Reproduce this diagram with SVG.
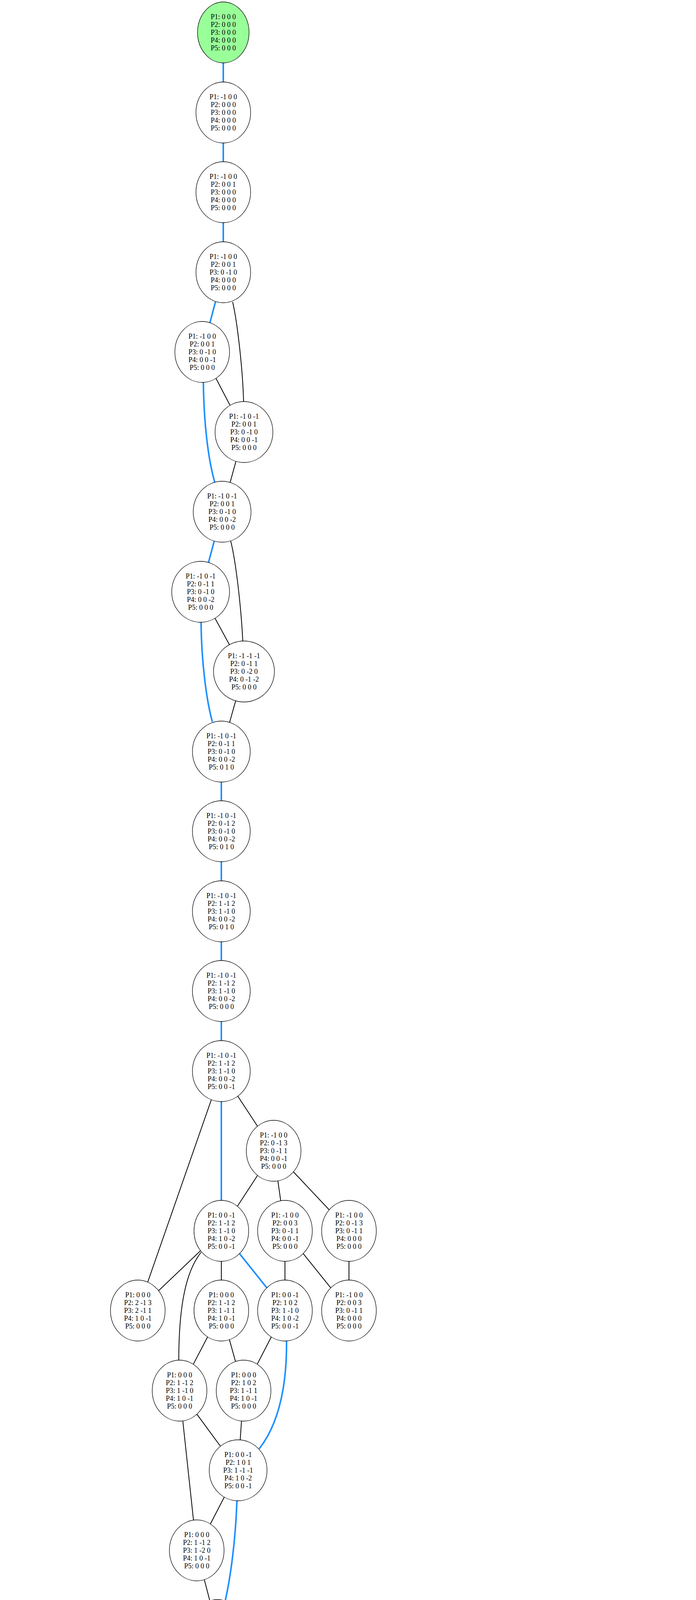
<svg xmlns="http://www.w3.org/2000/svg" width="1783" height="7797" viewBox="0 0 1783 7797">
<style>
.k{stroke:#000;stroke-width:2;fill:none}
.b{stroke:#1e90ff;stroke-width:4;fill:none}
.nd ellipse{fill:#fff;stroke:#000;stroke-width:1.3}
.nd text{font-family:"Liberation Serif","Times New Roman",serif;font-size:18px;text-anchor:middle;fill:#000}
</style>
<rect width="1783" height="7797" fill="#fff"/>
<g id="edges">
<line class="b" x1="572" y1="83" x2="572" y2="288"/>
<line class="b" x1="572" y1="288" x2="572" y2="492"/>
<line class="b" x1="572" y1="492" x2="572" y2="697"/>
<line class="b" x1="572" y1="697" x2="518" y2="901"/>
<path class="k" d="M596,773 C609,830 622,950 624,1028"/>
<line class="k" x1="518" y1="901" x2="625" y2="1106"/>
<path class="b" d="M521,979 C522,1080 533,1175 550,1234"/>
<line class="k" x1="625" y1="1106" x2="569" y2="1310"/>
<line class="b" x1="569" y1="1310" x2="514" y2="1515"/>
<path class="k" d="M591,1385 C605,1440 618,1560 622,1641"/>
<line class="k" x1="514" y1="1515" x2="625" y2="1719"/>
<path class="b" d="M515,1593 C516,1690 528,1790 544,1848"/>
<line class="k" x1="625" y1="1719" x2="567" y2="1924"/>
<line class="b" x1="567" y1="1924" x2="567" y2="2128"/>
<line class="b" x1="567" y1="2128" x2="567" y2="2333"/>
<line class="b" x1="567" y1="2333" x2="567" y2="2537"/>
<line class="b" x1="567" y1="2537" x2="567" y2="2742"/>
<line class="b" x1="567" y1="2742" x2="567" y2="3151"/>
<line class="k" x1="567" y1="2742" x2="701" y2="2946"/>
<line class="k" x1="567" y1="2742" x2="353" y2="3355"/>
<line class="k" x1="701" y1="2946" x2="567" y2="3151"/>
<line class="k" x1="701" y1="2946" x2="730" y2="3151"/>
<line class="k" x1="701" y1="2946" x2="894" y2="3151"/>
<line class="k" x1="567" y1="3151" x2="353" y2="3355"/>
<line class="k" x1="567" y1="3151" x2="567" y2="3355"/>
<line class="b" x1="567" y1="3151" x2="730" y2="3355"/>
<path class="k" d="M515,3206 C480,3250 458,3330 458,3482"/>
<line class="k" x1="730" y1="3151" x2="730" y2="3355"/>
<line class="k" x1="730" y1="3151" x2="894" y2="3355"/>
<line class="k" x1="894" y1="3151" x2="894" y2="3355"/>
<line class="k" x1="567" y1="3355" x2="460" y2="3560"/>
<line class="k" x1="567" y1="3355" x2="624" y2="3560"/>
<line class="k" x1="730" y1="3355" x2="624" y2="3560"/>
<path class="b" d="M734,3433 C735,3560 710,3650 664,3709"/>
<line class="k" x1="460" y1="3560" x2="610" y2="3764"/>
<line class="k" x1="624" y1="3560" x2="610" y2="3764"/>
<line class="k" x1="460" y1="3560" x2="504" y2="3969"/>
<line class="k" x1="610" y1="3764" x2="504" y2="3969"/>
<path class="b" d="M607,3842 C603,3950 590,4040 577,4098"/>
<line class="k" x1="504" y1="3969" x2="557" y2="4173"/>
<line class="b" x1="557" y1="4173" x2="557" y2="4378"/>
<line class="b" x1="557" y1="4378" x2="557" y2="4582"/>
<line class="b" x1="557" y1="4582" x2="627" y2="4787"/>
<line class="k" x1="557" y1="4582" x2="476" y2="4991"/>
<line class="k" x1="627" y1="4787" x2="476" y2="4991"/>
<line class="k" x1="627" y1="4787" x2="640" y2="4991"/>
<path class="b" d="M679,4842 C715,4880 745,4960 752,5118"/>
<line class="k" x1="640" y1="4991" x2="579" y2="5196"/>
<line class="k" x1="640" y1="4991" x2="747" y2="5196"/>
<line class="k" x1="747" y1="5196" x2="800" y2="5400"/>
<path class="b" d="M727,5271 C712,5340 712,5460 727,5530"/>
<line class="k" x1="800" y1="5400" x2="747" y2="5605"/>
<line class="b" x1="747" y1="5605" x2="803" y2="5809"/>
<path class="k" d="M727,5680 C712,5760 697,5840 695,5936"/>
<line class="k" x1="803" y1="5809" x2="691" y2="6014"/>
<line class="b" x1="803" y1="5809" x2="860" y2="6014"/>
<line class="k" x1="691" y1="6014" x2="526" y2="6218"/>
<line class="k" x1="691" y1="6014" x2="691" y2="6218"/>
<line class="b" x1="860" y1="6014" x2="972" y2="6218"/>
<line class="k" x1="860" y1="6014" x2="862" y2="6423"/>
<line class="k" x1="972" y1="6218" x2="862" y2="6423"/>
<line class="b" x1="972" y1="6218" x2="1040" y2="6423"/>
<line class="k" x1="526" y1="6218" x2="527" y2="6423"/>
<line class="k" x1="526" y1="6218" x2="691" y2="6423"/>
<path class="k" d="M480,6277 C440,6340 418,6420 418,6549"/>
<line class="k" x1="691" y1="6218" x2="691" y2="6423"/>
<line class="k" x1="527" y1="6423" x2="420" y2="6627"/>
<line class="k" x1="527" y1="6423" x2="584" y2="6627"/>
<line class="k" x1="691" y1="6423" x2="584" y2="6627"/>
<path class="k" d="M687,6501 C685,6600 670,6700 657,6757"/>
<line class="k" x1="584" y1="6627" x2="637" y2="6832"/>
<line class="k" x1="1040" y1="6423" x2="948" y2="6627"/>
<line class="k" x1="1040" y1="6423" x2="1107" y2="6627"/>
<line class="k" x1="948" y1="6627" x2="836" y2="6832"/>
<line class="b" x1="948" y1="6627" x2="1013" y2="6832"/>
<line class="k" x1="836" y1="6832" x2="836" y2="7022"/>
<line class="k" x1="1013" y1="6832" x2="836" y2="7022"/>
<line class="b" x1="1013" y1="6832" x2="1222" y2="7022"/>
<line class="k" x1="1013" y1="6832" x2="1003" y2="7200"/>
<path class="k" d="M1030,6894 C1060,7000 1095,7180 1102,7310"/>
<line class="k" x1="836" y1="7022" x2="675" y2="7200"/>
<path class="k" d="M765,7043 C640,7085 520,7160 432,7318"/>
<line class="k" x1="836" y1="7022" x2="809" y2="7551"/>
<line class="k" x1="1222" y1="7022" x2="675" y2="7200"/>
<line class="k" x1="1222" y1="7022" x2="1003" y2="7200"/>
<line class="k" x1="1222" y1="7022" x2="1110" y2="7374"/>
<line class="k" x1="1222" y1="7022" x2="1322" y2="7374"/>
<path class="k" d="M1268,7072 C1360,7190 1425,7300 1420,7390 C1415,7450 1340,7500 1282,7530"/>
<line class="b" x1="1222" y1="7022" x2="1545" y2="7200"/>
<line class="k" x1="675" y1="7200" x2="398" y2="7374"/>
<line class="k" x1="675" y1="7200" x2="621" y2="7374"/>
<line class="k" x1="675" y1="7200" x2="809" y2="7551"/>
<path class="k" d="M612,7231 C555,7260 520,7300 521,7360 C523,7450 545,7560 550,7664"/>
<path class="k" d="M934,7218 C830,7245 700,7255 600,7280 C530,7298 480,7320 460,7343"/>
<path class="k" d="M950,7243 C880,7310 800,7400 720,7440 C650,7475 580,7505 518,7530"/>
<line class="k" x1="1003" y1="7200" x2="946" y2="7374"/>
<line class="k" x1="1003" y1="7200" x2="1110" y2="7374"/>
<line class="k" x1="1003" y1="7200" x2="1322" y2="7374"/>
<path class="k" d="M1067,7231 C1160,7270 1225,7340 1224,7487"/>
<line class="b" x1="1545" y1="7200" x2="1541" y2="7374"/>
<line class="k" x1="1545" y1="7200" x2="1706" y2="7374"/>
<line class="k" x1="398" y1="7374" x2="75" y2="7551"/>
<line class="k" x1="398" y1="7374" x2="239" y2="7551"/>
<line class="k" x1="398" y1="7374" x2="452" y2="7551"/>
<line class="k" x1="398" y1="7374" x2="809" y2="7551"/>
<path class="k" d="M373,7435 C355,7500 350,7580 380,7630 C410,7675 450,7695 494,7709"/>
<line class="k" x1="1110" y1="7374" x2="809" y2="7551"/>
<line class="k" x1="1110" y1="7374" x2="1216" y2="7551"/>
<line class="k" x1="1110" y1="7374" x2="990" y2="7728"/>
<line class="k" x1="809" y1="7551" x2="559" y2="7728"/>
<line class="k" x1="809" y1="7551" x2="809" y2="7728"/>
<line class="k" x1="809" y1="7551" x2="990" y2="7728"/>
<line class="k" x1="1541" y1="7374" x2="1461" y2="7551"/>
<line class="b" x1="1541" y1="7374" x2="1618" y2="7551"/>
<line class="k" x1="1618" y1="7551" x2="1542" y2="7728"/>
<line class="b" x1="1618" y1="7551" x2="1694" y2="7728"/>
</g>
<g id="n0" class="nd"><ellipse cx="572" cy="83" rx="66" ry="78" style="fill:#99ff99"/><text x="572" y="49"><tspan x="572">P1: 0 0 0</tspan><tspan x="572" dy="20">P2: 0 0 0</tspan><tspan x="572" dy="20">P3: 0 0 0</tspan><tspan x="572" dy="20">P4: 0 0 0</tspan><tspan x="572" dy="20">P5: 0 0 0</tspan></text></g>
<g id="n1" class="nd"><ellipse cx="572" cy="288" rx="70" ry="78"/><text x="572" y="254"><tspan x="572">P1: -1 0 0</tspan><tspan x="572" dy="20">P2: 0 0 0</tspan><tspan x="572" dy="20">P3: 0 0 0</tspan><tspan x="572" dy="20">P4: 0 0 0</tspan><tspan x="572" dy="20">P5: 0 0 0</tspan></text></g>
<g id="n2" class="nd"><ellipse cx="572" cy="492" rx="70" ry="78"/><text x="572" y="458"><tspan x="572">P1: -1 0 0</tspan><tspan x="572" dy="20">P2: 0 0 1</tspan><tspan x="572" dy="20">P3: 0 0 0</tspan><tspan x="572" dy="20">P4: 0 0 0</tspan><tspan x="572" dy="20">P5: 0 0 0</tspan></text></g>
<g id="n3" class="nd"><ellipse cx="572" cy="697" rx="70" ry="78"/><text x="572" y="663"><tspan x="572">P1: -1 0 0</tspan><tspan x="572" dy="20">P2: 0 0 1</tspan><tspan x="572" dy="20">P3: 0 -1 0</tspan><tspan x="572" dy="20">P4: 0 0 0</tspan><tspan x="572" dy="20">P5: 0 0 0</tspan></text></g>
<g id="n4" class="nd"><ellipse cx="518" cy="901" rx="70" ry="78"/><text x="518" y="867"><tspan x="518">P1: -1 0 0</tspan><tspan x="518" dy="20">P2: 0 0 1</tspan><tspan x="518" dy="20">P3: 0 -1 0</tspan><tspan x="518" dy="20">P4: 0 0 -1</tspan><tspan x="518" dy="20">P5: 0 0 0</tspan></text></g>
<g id="n5" class="nd"><ellipse cx="625" cy="1106" rx="74" ry="78"/><text x="625" y="1072"><tspan x="625">P1: -1 0 -1</tspan><tspan x="625" dy="20">P2: 0 0 1</tspan><tspan x="625" dy="20">P3: 0 -1 0</tspan><tspan x="625" dy="20">P4: 0 0 -1</tspan><tspan x="625" dy="20">P5: 0 0 0</tspan></text></g>
<g id="n6" class="nd"><ellipse cx="569" cy="1310" rx="74" ry="78"/><text x="569" y="1276"><tspan x="569">P1: -1 0 -1</tspan><tspan x="569" dy="20">P2: 0 0 1</tspan><tspan x="569" dy="20">P3: 0 -1 0</tspan><tspan x="569" dy="20">P4: 0 0 -2</tspan><tspan x="569" dy="20">P5: 0 0 0</tspan></text></g>
<g id="n7" class="nd"><ellipse cx="514" cy="1515" rx="74" ry="78"/><text x="514" y="1481"><tspan x="514">P1: -1 0 -1</tspan><tspan x="514" dy="20">P2: 0 -1 1</tspan><tspan x="514" dy="20">P3: 0 -1 0</tspan><tspan x="514" dy="20">P4: 0 0 -2</tspan><tspan x="514" dy="20">P5: 0 0 0</tspan></text></g>
<g id="n8" class="nd"><ellipse cx="625" cy="1719" rx="78" ry="78"/><text x="625" y="1685"><tspan x="625">P1: -1 -1 -1</tspan><tspan x="625" dy="20">P2: 0 -1 1</tspan><tspan x="625" dy="20">P3: 0 -2 0</tspan><tspan x="625" dy="20">P4: 0 -1 -2</tspan><tspan x="625" dy="20">P5: 0 0 0</tspan></text></g>
<g id="n9" class="nd"><ellipse cx="567" cy="1924" rx="74" ry="78"/><text x="567" y="1890"><tspan x="567">P1: -1 0 -1</tspan><tspan x="567" dy="20">P2: 0 -1 1</tspan><tspan x="567" dy="20">P3: 0 -1 0</tspan><tspan x="567" dy="20">P4: 0 0 -2</tspan><tspan x="567" dy="20">P5: 0 1 0</tspan></text></g>
<g id="n10" class="nd"><ellipse cx="567" cy="2128" rx="74" ry="78"/><text x="567" y="2094"><tspan x="567">P1: -1 0 -1</tspan><tspan x="567" dy="20">P2: 0 -1 2</tspan><tspan x="567" dy="20">P3: 0 -1 0</tspan><tspan x="567" dy="20">P4: 0 0 -2</tspan><tspan x="567" dy="20">P5: 0 1 0</tspan></text></g>
<g id="n11" class="nd"><ellipse cx="567" cy="2333" rx="74" ry="78"/><text x="567" y="2299"><tspan x="567">P1: -1 0 -1</tspan><tspan x="567" dy="20">P2: 1 -1 2</tspan><tspan x="567" dy="20">P3: 1 -1 0</tspan><tspan x="567" dy="20">P4: 0 0 -2</tspan><tspan x="567" dy="20">P5: 0 1 0</tspan></text></g>
<g id="n12" class="nd"><ellipse cx="567" cy="2537" rx="74" ry="78"/><text x="567" y="2503"><tspan x="567">P1: -1 0 -1</tspan><tspan x="567" dy="20">P2: 1 -1 2</tspan><tspan x="567" dy="20">P3: 1 -1 0</tspan><tspan x="567" dy="20">P4: 0 0 -2</tspan><tspan x="567" dy="20">P5: 0 0 0</tspan></text></g>
<g id="n13" class="nd"><ellipse cx="567" cy="2742" rx="74" ry="78"/><text x="567" y="2708"><tspan x="567">P1: -1 0 -1</tspan><tspan x="567" dy="20">P2: 1 -1 2</tspan><tspan x="567" dy="20">P3: 1 -1 0</tspan><tspan x="567" dy="20">P4: 0 0 -2</tspan><tspan x="567" dy="20">P5: 0 0 -1</tspan></text></g>
<g id="nC" class="nd"><ellipse cx="701" cy="2946" rx="70" ry="78"/><text x="701" y="2912"><tspan x="701">P1: -1 0 0</tspan><tspan x="701" dy="20">P2: 0 -1 3</tspan><tspan x="701" dy="20">P3: 0 -1 1</tspan><tspan x="701" dy="20">P4: 0 0 -1</tspan><tspan x="701" dy="20">P5: 0 0 0</tspan></text></g>
<g id="nD" class="nd"><ellipse cx="567" cy="3151" rx="70" ry="78"/><text x="567" y="3117"><tspan x="567">P1: 0 0 -1</tspan><tspan x="567" dy="20">P2: 1 -1 2</tspan><tspan x="567" dy="20">P3: 1 -1 0</tspan><tspan x="567" dy="20">P4: 1 0 -2</tspan><tspan x="567" dy="20">P5: 0 0 -1</tspan></text></g>
<g id="nE" class="nd"><ellipse cx="730" cy="3151" rx="70" ry="78"/><text x="730" y="3117"><tspan x="730">P1: -1 0 0</tspan><tspan x="730" dy="20">P2: 0 0 3</tspan><tspan x="730" dy="20">P3: 0 -1 1</tspan><tspan x="730" dy="20">P4: 0 0 -1</tspan><tspan x="730" dy="20">P5: 0 0 0</tspan></text></g>
<g id="nF" class="nd"><ellipse cx="894" cy="3151" rx="70" ry="78"/><text x="894" y="3117"><tspan x="894">P1: -1 0 0</tspan><tspan x="894" dy="20">P2: 0 -1 3</tspan><tspan x="894" dy="20">P3: 0 -1 1</tspan><tspan x="894" dy="20">P4: 0 0 0</tspan><tspan x="894" dy="20">P5: 0 0 0</tspan></text></g>
<g id="nG" class="nd"><ellipse cx="353" cy="3355" rx="70" ry="78"/><text x="353" y="3321"><tspan x="353">P1: 0 0 0</tspan><tspan x="353" dy="20">P2: 2 -1 3</tspan><tspan x="353" dy="20">P3: 2 -1 1</tspan><tspan x="353" dy="20">P4: 1 0 -1</tspan><tspan x="353" dy="20">P5: 0 0 0</tspan></text></g>
<g id="nH" class="nd"><ellipse cx="567" cy="3355" rx="70" ry="78"/><text x="567" y="3321"><tspan x="567">P1: 0 0 0</tspan><tspan x="567" dy="20">P2: 1 -1 2</tspan><tspan x="567" dy="20">P3: 1 -1 1</tspan><tspan x="567" dy="20">P4: 1 0 -1</tspan><tspan x="567" dy="20">P5: 0 0 0</tspan></text></g>
<g id="nI" class="nd"><ellipse cx="730" cy="3355" rx="70" ry="78"/><text x="730" y="3321"><tspan x="730">P1: 0 0 -1</tspan><tspan x="730" dy="20">P2: 1 0 2</tspan><tspan x="730" dy="20">P3: 1 -1 0</tspan><tspan x="730" dy="20">P4: 1 0 -2</tspan><tspan x="730" dy="20">P5: 0 0 -1</tspan></text></g>
<g id="nJ" class="nd"><ellipse cx="894" cy="3355" rx="70" ry="78"/><text x="894" y="3321"><tspan x="894">P1: -1 0 0</tspan><tspan x="894" dy="20">P2: 0 0 3</tspan><tspan x="894" dy="20">P3: 0 -1 1</tspan><tspan x="894" dy="20">P4: 0 0 0</tspan><tspan x="894" dy="20">P5: 0 0 0</tspan></text></g>
<g id="nK" class="nd"><ellipse cx="460" cy="3560" rx="70" ry="78"/><text x="460" y="3526"><tspan x="460">P1: 0 0 0</tspan><tspan x="460" dy="20">P2: 1 -1 2</tspan><tspan x="460" dy="20">P3: 1 -1 0</tspan><tspan x="460" dy="20">P4: 1 0 -1</tspan><tspan x="460" dy="20">P5: 0 0 0</tspan></text></g>
<g id="nL" class="nd"><ellipse cx="624" cy="3560" rx="70" ry="78"/><text x="624" y="3526"><tspan x="624">P1: 0 0 0</tspan><tspan x="624" dy="20">P2: 1 0 2</tspan><tspan x="624" dy="20">P3: 1 -1 1</tspan><tspan x="624" dy="20">P4: 1 0 -1</tspan><tspan x="624" dy="20">P5: 0 0 0</tspan></text></g>
<g id="nM" class="nd"><ellipse cx="610" cy="3764" rx="74" ry="78"/><text x="610" y="3730"><tspan x="610">P1: 0 0 -1</tspan><tspan x="610" dy="20">P2: 1 0 1</tspan><tspan x="610" dy="20">P3: 1 -1 -1</tspan><tspan x="610" dy="20">P4: 1 0 -2</tspan><tspan x="610" dy="20">P5: 0 0 -1</tspan></text></g>
<g id="nN" class="nd"><ellipse cx="504" cy="3969" rx="70" ry="78"/><text x="504" y="3935"><tspan x="504">P1: 0 0 0</tspan><tspan x="504" dy="20">P2: 1 -1 2</tspan><tspan x="504" dy="20">P3: 1 -2 0</tspan><tspan x="504" dy="20">P4: 1 0 -1</tspan><tspan x="504" dy="20">P5: 0 0 0</tspan></text></g>
<g id="nO" class="nd"><ellipse cx="557" cy="4173" rx="74" ry="78"/><text x="557" y="4139"><tspan x="557">P1: 0 0 -1</tspan><tspan x="557" dy="20">P2: 1 0 1</tspan><tspan x="557" dy="20">P3: 1 -2 -1</tspan><tspan x="557" dy="20">P4: 1 0 -2</tspan><tspan x="557" dy="20">P5: 0 0 -1</tspan></text></g>
<g id="nP" class="nd"><ellipse cx="557" cy="4378" rx="74" ry="78"/><text x="557" y="4344"><tspan x="557">P1: 0 0 -1</tspan><tspan x="557" dy="20">P2: 1 0 1</tspan><tspan x="557" dy="20">P3: 2 -2 -1</tspan><tspan x="557" dy="20">P4: 1 0 -2</tspan><tspan x="557" dy="20">P5: 0 0 -1</tspan></text></g>
<g id="nQ" class="nd"><ellipse cx="557" cy="4582" rx="74" ry="78"/><text x="557" y="4548"><tspan x="557">P1: 0 0 -1</tspan><tspan x="557" dy="20">P2: 1 0 2</tspan><tspan x="557" dy="20">P3: 2 -2 -1</tspan><tspan x="557" dy="20">P4: 1 0 -2</tspan><tspan x="557" dy="20">P5: 0 0 -1</tspan></text></g>
<g id="nR" class="nd"><ellipse cx="627" cy="4787" rx="74" ry="78"/><text x="627" y="4753"><tspan x="627">P1: 0 0 -1</tspan><tspan x="627" dy="20">P2: 0 0 2</tspan><tspan x="627" dy="20">P3: 1 -2 -1</tspan><tspan x="627" dy="20">P4: 1 0 -2</tspan><tspan x="627" dy="20">P5: 0 0 -1</tspan></text></g>
<g id="nS" class="nd"><ellipse cx="476" cy="4991" rx="70" ry="78"/><text x="476" y="4957"><tspan x="476">P1: -1 0 0</tspan><tspan x="476" dy="20">P2: 0 0 3</tspan><tspan x="476" dy="20">P3: 1 -2 0</tspan><tspan x="476" dy="20">P4: 0 0 -1</tspan><tspan x="476" dy="20">P5: 0 0 0</tspan></text></g>
<g id="nT" class="nd"><ellipse cx="640" cy="4991" rx="70" ry="78"/><text x="640" y="4957"><tspan x="640">P1: 0 0 0</tspan><tspan x="640" dy="20">P2: 0 1 3</tspan><tspan x="640" dy="20">P3: 1 -2 0</tspan><tspan x="640" dy="20">P4: 1 0 -1</tspan><tspan x="640" dy="20">P5: 0 0 0</tspan></text></g>
<g id="nU" class="nd"><ellipse cx="579" cy="5196" rx="70" ry="78"/><text x="579" y="5162"><tspan x="579">P1: 0 0 0</tspan><tspan x="579" dy="20">P2: 0 1 3</tspan><tspan x="579" dy="20">P3: 2 -2 0</tspan><tspan x="579" dy="20">P4: 1 0 -1</tspan><tspan x="579" dy="20">P5: 0 0 0</tspan></text></g>
<g id="nV" class="nd"><ellipse cx="747" cy="5196" rx="74" ry="78"/><text x="747" y="5162"><tspan x="747">P1: 0 0 -1</tspan><tspan x="747" dy="20">P2: 0 1 2</tspan><tspan x="747" dy="20">P3: 1 -1 -1</tspan><tspan x="747" dy="20">P4: 1 0 -2</tspan><tspan x="747" dy="20">P5: 0 0 -1</tspan></text></g>
<g id="nW" class="nd"><ellipse cx="800" cy="5400" rx="70" ry="78"/><text x="800" y="5366"><tspan x="800">P1: 0 0 0</tspan><tspan x="800" dy="20">P2: 0 1 3</tspan><tspan x="800" dy="20">P3: 1 -1 1</tspan><tspan x="800" dy="20">P4: 1 0 -1</tspan><tspan x="800" dy="20">P5: 0 0 0</tspan></text></g>
<g id="nX" class="nd"><ellipse cx="747" cy="5605" rx="70" ry="78"/><text x="747" y="5571"><tspan x="747">P1: 0 0 -1</tspan><tspan x="747" dy="20">P2: 0 1 3</tspan><tspan x="747" dy="20">P3: 1 -1 0</tspan><tspan x="747" dy="20">P4: 1 0 -2</tspan><tspan x="747" dy="20">P5: 0 0 -1</tspan></text></g>
<g id="nY" class="nd"><ellipse cx="803" cy="5809" rx="74" ry="78"/><text x="803" y="5775"><tspan x="803">P1: -1 0 -1</tspan><tspan x="803" dy="20">P2: 0 1 3</tspan><tspan x="803" dy="20">P3: 1 -1 0</tspan><tspan x="803" dy="20">P4: 0 0 -2</tspan><tspan x="803" dy="20">P5: 0 0 -1</tspan></text></g>
<g id="nZ" class="nd"><ellipse cx="691" cy="6014" rx="70" ry="78"/><text x="691" y="5980"><tspan x="691">P1: -1 0 0</tspan><tspan x="691" dy="20">P2: -1 1 4</tspan><tspan x="691" dy="20">P3: 0 -1 1</tspan><tspan x="691" dy="20">P4: 0 0 -1</tspan><tspan x="691" dy="20">P5: 0 0 0</tspan></text></g>
<g id="nAA" class="nd"><ellipse cx="860" cy="6014" rx="74" ry="78"/><text x="860" y="5980"><tspan x="860">P1: -1 0 -1</tspan><tspan x="860" dy="20">P2: 0 1 3</tspan><tspan x="860" dy="20">P3: 1 -1 0</tspan><tspan x="860" dy="20">P4: 0 0 -2</tspan><tspan x="860" dy="20">P5: 0 0 0</tspan></text></g>
<g id="nAB" class="nd"><ellipse cx="526" cy="6218" rx="70" ry="78"/><text x="526" y="6184"><tspan x="526">P1: -1 0 0</tspan><tspan x="526" dy="20">P2: -1 2 4</tspan><tspan x="526" dy="20">P3: 0 -1 1</tspan><tspan x="526" dy="20">P4: 0 0 -1</tspan><tspan x="526" dy="20">P5: 0 0 0</tspan></text></g>
<g id="nAC" class="nd"><ellipse cx="691" cy="6218" rx="70" ry="78"/><text x="691" y="6184"><tspan x="691">P1: -1 0 0</tspan><tspan x="691" dy="20">P2: -1 1 4</tspan><tspan x="691" dy="20">P3: 0 -1 1</tspan><tspan x="691" dy="20">P4: 0 0 0</tspan><tspan x="691" dy="20">P5: 0 0 0</tspan></text></g>
<g id="nAD" class="nd"><ellipse cx="972" cy="6218" rx="74" ry="78"/><text x="972" y="6184"><tspan x="972">P1: -1 0 -1</tspan><tspan x="972" dy="20">P2: 0 2 3</tspan><tspan x="972" dy="20">P3: 1 -1 0</tspan><tspan x="972" dy="20">P4: 0 0 -2</tspan><tspan x="972" dy="20">P5: 0 1 0</tspan></text></g>
<g id="nAE" class="nd"><ellipse cx="527" cy="6423" rx="70" ry="78"/><text x="527" y="6389"><tspan x="527">P1: -1 0 0</tspan><tspan x="527" dy="20">P2: -1 2 4</tspan><tspan x="527" dy="20">P3: 1 -1 1</tspan><tspan x="527" dy="20">P4: 0 0 -1</tspan><tspan x="527" dy="20">P5: 0 0 0</tspan></text></g>
<g id="nAF" class="nd"><ellipse cx="691" cy="6423" rx="70" ry="78"/><text x="691" y="6389"><tspan x="691">P1: -1 0 0</tspan><tspan x="691" dy="20">P2: -1 2 4</tspan><tspan x="691" dy="20">P3: 0 -1 1</tspan><tspan x="691" dy="20">P4: 0 0 0</tspan><tspan x="691" dy="20">P5: 0 0 0</tspan></text></g>
<g id="nAG" class="nd"><ellipse cx="862" cy="6423" rx="78" ry="78"/><text x="862" y="6389"><tspan x="862">P1: -1 -1 -1</tspan><tspan x="862" dy="20">P2: 0 0 3</tspan><tspan x="862" dy="20">P3: 1 -2 0</tspan><tspan x="862" dy="20">P4: 0 -1 -2</tspan><tspan x="862" dy="20">P5: 0 0 0</tspan></text></g>
<g id="nRED" class="nd"><ellipse cx="1040" cy="6423" rx="74" ry="78" style="fill:#ff9999"/><text x="1040" y="6389"><tspan x="1040">P1: -1 0 -1</tspan><tspan x="1040" dy="20">P2: 0 2 3</tspan><tspan x="1040" dy="20">P3: 0 -1 0</tspan><tspan x="1040" dy="20">P4: 0 0 -2</tspan><tspan x="1040" dy="20">P5: 0 1 0</tspan></text></g>
<g id="nAH" class="nd"><ellipse cx="420" cy="6627" rx="70" ry="78"/><text x="420" y="6593"><tspan x="420">P1: 0 0 0</tspan><tspan x="420" dy="20">P2: -1 2 4</tspan><tspan x="420" dy="20">P3: 1 -1 1</tspan><tspan x="420" dy="20">P4: 1 0 -1</tspan><tspan x="420" dy="20">P5: 0 0 0</tspan></text></g>
<g id="nAI" class="nd"><ellipse cx="584" cy="6627" rx="70" ry="78"/><text x="584" y="6593"><tspan x="584">P1: -1 0 0</tspan><tspan x="584" dy="20">P2: -1 2 4</tspan><tspan x="584" dy="20">P3: 1 -1 1</tspan><tspan x="584" dy="20">P4: 0 0 0</tspan><tspan x="584" dy="20">P5: 0 0 0</tspan></text></g>
<g id="nAJ" class="nd"><ellipse cx="948" cy="6627" rx="74" ry="64"/><text x="948" y="6603"><tspan x="948">P1: -1 0 -1</tspan><tspan x="948" dy="20">P3: 0 -1 0</tspan><tspan x="948" dy="20">P4: 0 0 -2</tspan><tspan x="948" dy="20">P5: 0 1 0</tspan></text></g>
<g id="nPINK1" class="nd"><ellipse cx="1107" cy="6627" rx="60" ry="24" style="fill:#ff99ff"/><text x="1107" y="6633">P2: 0 1 3</text></g>
<g id="nAK" class="nd"><ellipse cx="637" cy="6832" rx="70" ry="78"/><text x="637" y="6798"><tspan x="637">P1: 0 0 0</tspan><tspan x="637" dy="20">P2: -1 2 4</tspan><tspan x="637" dy="20">P3: 1 -1 1</tspan><tspan x="637" dy="20">P4: 0 0 0</tspan><tspan x="637" dy="20">P5: 0 0 0</tspan></text></g>
<g id="nAL" class="nd"><ellipse cx="836" cy="6832" rx="78" ry="64"/><text x="836" y="6808"><tspan x="836">P1: -1 -1 -1</tspan><tspan x="836" dy="20">P3: 1 -2 0</tspan><tspan x="836" dy="20">P4: 0 -1 -2</tspan><tspan x="836" dy="20">P5: 0 0 0</tspan></text></g>
<g id="nAM" class="nd"><ellipse cx="1013" cy="6832" rx="74" ry="64"/><text x="1013" y="6808"><tspan x="1013">P1: -1 0 -1</tspan><tspan x="1013" dy="20">P3: 0 -1 0</tspan><tspan x="1013" dy="20">P4: 0 0 -2</tspan><tspan x="1013" dy="20">P5: 0 0 0</tspan></text></g>
<g id="nAN" class="nd"><ellipse cx="836" cy="7022" rx="74" ry="64"/><text x="836" y="6998"><tspan x="836">P1: -1 0 -1</tspan><tspan x="836" dy="20">P3: 1 -1 0</tspan><tspan x="836" dy="20">P4: 0 0 -2</tspan><tspan x="836" dy="20">P5: 0 0 0</tspan></text></g>
<g id="nAQ" class="nd"><ellipse cx="1222" cy="7022" rx="74" ry="64"/><text x="1222" y="6998"><tspan x="1222">P1: -1 0 -1</tspan><tspan x="1222" dy="20">P3: 0 -1 0</tspan><tspan x="1222" dy="20">P4: 0 0 -1</tspan><tspan x="1222" dy="20">P5: 0 0 0</tspan></text></g>
<g id="nAO" class="nd"><ellipse cx="675" cy="7200" rx="74" ry="64"/><text x="675" y="7176"><tspan x="675">P1: -1 0 -1</tspan><tspan x="675" dy="20">P3: 1 -1 0</tspan><tspan x="675" dy="20">P4: 0 0 -1</tspan><tspan x="675" dy="20">P5: 0 0 0</tspan></text></g>
<g id="nAP" class="nd"><ellipse cx="1003" cy="7200" rx="70" ry="64"/><text x="1003" y="7176"><tspan x="1003">P1: -1 0 0</tspan><tspan x="1003" dy="20">P3: 0 -1 0</tspan><tspan x="1003" dy="20">P4: 0 0 -1</tspan><tspan x="1003" dy="20">P5: 0 0 0</tspan></text></g>
<g id="nAR" class="nd"><ellipse cx="1545" cy="7200" rx="78" ry="64"/><text x="1545" y="7176"><tspan x="1545">P1: -1 -1 -1</tspan><tspan x="1545" dy="20">P3: 0 -2 0</tspan><tspan x="1545" dy="20">P4: 0 0 -1</tspan><tspan x="1545" dy="20">P5: 0 0 0</tspan></text></g>
<g id="nAS" class="nd"><ellipse cx="398" cy="7374" rx="70" ry="64"/><text x="398" y="7350"><tspan x="398">P1: -1 0 0</tspan><tspan x="398" dy="20">P3: 1 -1 0</tspan><tspan x="398" dy="20">P4: 0 0 -1</tspan><tspan x="398" dy="20">P5: 0 0 0</tspan></text></g>
<g id="nAT" class="nd"><ellipse cx="621" cy="7374" rx="78" ry="64"/><text x="621" y="7350"><tspan x="621">P1: -1 -1 -1</tspan><tspan x="621" dy="20">P3: 1 -2 0</tspan><tspan x="621" dy="20">P4: 0 0 -1</tspan><tspan x="621" dy="20">P5: 0 0 0</tspan></text></g>
<g id="nAU" class="nd"><ellipse cx="946" cy="7374" rx="70" ry="64"/><text x="946" y="7350"><tspan x="946">P1: -1 0 0</tspan><tspan x="946" dy="20">P3: 0 -2 0</tspan><tspan x="946" dy="20">P4: 0 0 -1</tspan><tspan x="946" dy="20">P5: 0 0 0</tspan></text></g>
<g id="nBC" class="nd"><ellipse cx="1110" cy="7374" rx="70" ry="64"/><text x="1110" y="7350"><tspan x="1110">P1: -1 0 0</tspan><tspan x="1110" dy="20">P3: 0 -1 1</tspan><tspan x="1110" dy="20">P4: 0 0 -1</tspan><tspan x="1110" dy="20">P5: 0 0 0</tspan></text></g>
<g id="nBD" class="nd"><ellipse cx="1322" cy="7374" rx="70" ry="64"/><text x="1322" y="7350"><tspan x="1322">P1: -1 0 0</tspan><tspan x="1322" dy="20">P3: 0 -1 0</tspan><tspan x="1322" dy="20">P4: 0 0 0</tspan><tspan x="1322" dy="20">P5: 0 0 0</tspan></text></g>
<g id="nBE" class="nd"><ellipse cx="1541" cy="7374" rx="70" ry="50"/><text x="1541" y="7360"><tspan x="1541">P3: 0 -2 0</tspan><tspan x="1541" dy="20">P4: 0 0 -1</tspan><tspan x="1541" dy="20">P5: 0 0 0</tspan></text></g>
<g id="nPINK2" class="nd"><ellipse cx="1706" cy="7374" rx="72" ry="24" style="fill:#ff99ff"/><text x="1706" y="7380">P1: -1 -1 -1</text></g>
<g id="nAV" class="nd"><ellipse cx="75" cy="7551" rx="70" ry="64"/><text x="75" y="7527"><tspan x="75">P1: -1 0 0</tspan><tspan x="75" dy="20">P3: 1 -2 0</tspan><tspan x="75" dy="20">P4: 0 0 -1</tspan><tspan x="75" dy="20">P5: 0 0 0</tspan></text></g>
<g id="nAW" class="nd"><ellipse cx="239" cy="7551" rx="70" ry="64"/><text x="239" y="7527"><tspan x="239">P1: 0 0 0</tspan><tspan x="239" dy="20">P3: 2 -1 0</tspan><tspan x="239" dy="20">P4: 1 0 -1</tspan><tspan x="239" dy="20">P5: 0 0 0</tspan></text></g>
<g id="nAX" class="nd"><ellipse cx="452" cy="7551" rx="70" ry="64"/><text x="452" y="7527"><tspan x="452">P1: 0 0 0</tspan><tspan x="452" dy="20">P3: 1 -1 0</tspan><tspan x="452" dy="20">P4: 1 0 -1</tspan><tspan x="452" dy="20">P5: 0 0 0</tspan></text></g>
<g id="nAY" class="nd"><ellipse cx="809" cy="7551" rx="70" ry="64"/><text x="809" y="7527"><tspan x="809">P1: -1 0 0</tspan><tspan x="809" dy="20">P3: 1 -1 1</tspan><tspan x="809" dy="20">P4: 0 0 -1</tspan><tspan x="809" dy="20">P5: 0 0 0</tspan></text></g>
<g id="nBF" class="nd"><ellipse cx="1216" cy="7551" rx="70" ry="64"/><text x="1216" y="7527"><tspan x="1216">P1: -1 0 0</tspan><tspan x="1216" dy="20">P3: 0 -1 1</tspan><tspan x="1216" dy="20">P4: 0 0 0</tspan><tspan x="1216" dy="20">P5: 0 0 0</tspan></text></g>
<g id="nPINK3" class="nd"><ellipse cx="1461" cy="7551" rx="64" ry="24" style="fill:#ff99ff"/><text x="1461" y="7557">P3: 0 -2 0</text></g>
<g id="nBG" class="nd"><ellipse cx="1618" cy="7551" rx="70" ry="35"/><text x="1618" y="7547"><tspan x="1618">P4: 0 0 -1</tspan><tspan x="1618" dy="20">P5: 0 0 0</tspan></text></g>
<g id="nAZ" class="nd"><ellipse cx="559" cy="7728" rx="70" ry="64"/><text x="559" y="7704"><tspan x="559">P1: -1 0 0</tspan><tspan x="559" dy="20">P3: 1 -1 1</tspan><tspan x="559" dy="20">P4: 0 0 0</tspan><tspan x="559" dy="20">P5: 0 0 0</tspan></text></g>
<g id="nBA" class="nd"><ellipse cx="809" cy="7728" rx="70" ry="64"/><text x="809" y="7704"><tspan x="809">P1: 0 0 0</tspan><tspan x="809" dy="20">P3: 2 -1 1</tspan><tspan x="809" dy="20">P4: 1 0 -1</tspan><tspan x="809" dy="20">P5: 0 0 0</tspan></text></g>
<g id="nBB" class="nd"><ellipse cx="990" cy="7728" rx="70" ry="64"/><text x="990" y="7704"><tspan x="990">P1: 0 0 0</tspan><tspan x="990" dy="20">P3: 1 -1 1</tspan><tspan x="990" dy="20">P4: 1 0 -1</tspan><tspan x="990" dy="20">P5: 0 0 0</tspan></text></g>
<g id="nPINK4" class="nd"><ellipse cx="1542" cy="7728" rx="60" ry="24" style="fill:#ff99ff"/><text x="1542" y="7734">P5: 0 0 0</text></g>
<g id="nBLUE" class="nd"><ellipse cx="1694" cy="7728" rx="64" ry="24" style="fill:#9999ff"/><text x="1694" y="7734">P4: 0 0 -1</text></g>
</svg>
